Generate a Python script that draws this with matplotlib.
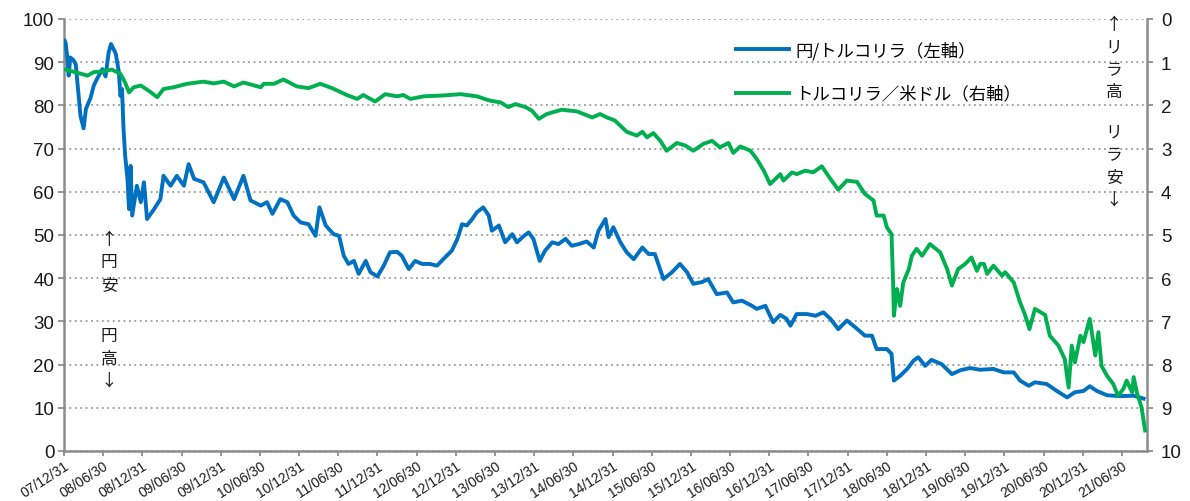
import matplotlib
matplotlib.use("Agg")
import matplotlib.pyplot as plt

plt.rcParams['font.family'] = ['Liberation Sans', 'Noto Sans CJK JP', 'DejaVu Sans']

# ---- data (decimal year, value) ----
x_tick_labels = ["07/12/31", "08/06/30", "08/12/31", "09/06/30", "09/12/31", "10/06/30",
                 "10/12/31", "11/06/30", "11/12/31", "12/06/30", "12/12/31", "13/06/30",
                 "13/12/31", "14/06/30", "14/12/31", "15/06/30", "15/12/31", "16/06/30",
                 "16/12/31", "17/06/30", "17/12/31", "18/06/30", "18/12/31", "19/06/30",
                 "19/12/31", "20/06/30", "20/12/31", "21/06/30"]

jpy_try_years = [2008.00, 2008.02, 2008.04, 2008.06, 2008.08, 2008.12, 2008.15, 2008.18, 2008.21,
                 2008.25, 2008.28, 2008.34, 2008.38, 2008.42, 2008.49, 2008.53, 2008.57, 2008.60,
                 2008.66, 2008.70, 2008.72, 2008.74, 2008.76, 2008.78, 2008.81, 2008.83, 2008.85,
                 2008.87, 2008.93, 2008.98, 2009.02, 2009.06, 2009.15, 2009.23, 2009.27, 2009.36,
                 2009.44, 2009.53, 2009.59, 2009.66, 2009.78, 2009.91, 2010.04, 2010.17, 2010.29,
                 2010.38, 2010.51, 2010.59, 2010.66, 2010.76, 2010.85, 2010.93, 2011.02, 2011.12,
                 2011.21, 2011.26, 2011.34, 2011.44, 2011.51, 2011.57, 2011.63, 2011.70, 2011.76,
                 2011.85, 2011.91, 2012.00, 2012.08, 2012.16, 2012.25, 2012.31, 2012.40, 2012.48,
                 2012.57, 2012.67, 2012.76, 2012.84, 2012.95, 2013.02, 2013.08, 2013.14, 2013.21,
                 2013.27, 2013.35, 2013.42, 2013.46, 2013.55, 2013.63, 2013.72, 2013.78, 2013.87,
                 2013.93, 2013.99, 2014.07, 2014.14, 2014.23, 2014.31, 2014.40, 2014.48, 2014.57,
                 2014.67, 2014.76, 2014.82, 2014.91, 2014.95, 2015.01, 2015.10, 2015.18, 2015.27,
                 2015.38, 2015.46, 2015.54, 2015.65, 2015.76, 2015.86, 2015.95, 2016.03, 2016.14,
                 2016.22, 2016.33, 2016.46, 2016.54, 2016.65, 2016.76, 2016.84, 2016.95, 2017.01,
                 2017.05, 2017.14, 2017.22, 2017.27, 2017.35, 2017.48, 2017.59, 2017.69, 2017.78,
                 2017.88, 2017.99, 2018.10, 2018.22, 2018.31, 2018.37, 2018.50, 2018.56, 2018.59,
                 2018.67, 2018.76, 2018.84, 2018.90, 2018.99, 2019.07, 2019.20, 2019.33, 2019.44,
                 2019.56, 2019.69, 2019.86, 2019.99, 2020.12, 2020.20, 2020.31, 2020.39, 2020.54,
                 2020.67, 2020.80, 2020.90, 2021.01, 2021.09, 2021.18, 2021.31, 2021.48, 2021.65,
                 2021.80]
jpy_try_vals = [95.4, 94.5, 91.5, 86.9, 91.1, 90.5, 89.5, 83.5, 77.6,
                74.7, 79.2, 81.8, 84.6, 86.1, 88.4, 86.7, 92.3, 94.2,
                92.0, 87.7, 82.2, 83.8, 74.5, 68.4, 63.0, 56.0, 66.0,
                54.5, 61.4, 57.6, 62.2, 53.7, 56.0, 58.3, 63.7, 61.4,
                63.7, 61.4, 66.4, 63.0, 62.2, 57.6, 63.3, 58.3, 63.7,
                58.0, 56.8, 57.6, 54.9, 58.3, 57.6, 54.5, 52.9, 52.5,
                49.8, 56.4, 52.2, 50.2, 49.8, 45.2, 43.3, 44.0, 41.0,
                44.0, 41.4, 40.4, 42.9, 46.0, 46.1, 45.2, 42.1, 44.0,
                43.3, 43.3, 42.9, 44.4, 46.4, 49.1, 52.5, 52.2, 53.7,
                55.3, 56.4, 54.5, 51.0, 52.2, 48.3, 50.2, 48.3, 49.8,
                50.6, 49.1, 44.0, 46.4, 48.3, 47.9, 49.1, 47.5, 47.9,
                48.5, 47.1, 51.0, 53.7, 49.5, 51.8, 48.3, 46.0, 44.4,
                47.1, 45.6, 45.6, 39.8, 41.4, 43.3, 41.4, 38.7, 39.1,
                39.8, 36.3, 36.7, 34.4, 34.8, 33.8, 32.9, 33.6, 31.3,
                29.8, 31.5, 30.6, 29.0, 31.7, 31.7, 31.3, 32.1, 30.6,
                28.2, 30.2, 28.6, 26.7, 26.7, 23.6, 23.6, 22.5, 16.3,
                17.4, 19.0, 20.9, 21.7, 19.7, 21.1, 20.1, 17.8, 18.7,
                19.2, 18.8, 19.0, 18.2, 18.2, 16.3, 15.1, 15.9, 15.5,
                13.9, 12.4, 13.6, 13.9, 15.0, 13.9, 12.9, 12.7, 12.8,
                12.0]

try_usd_years = [2008.00, 2008.12, 2008.30, 2008.38, 2008.51, 2008.61, 2008.72, 2008.78, 2008.83,
                 2008.89, 2008.98, 2009.08, 2009.19, 2009.27, 2009.40, 2009.57, 2009.78, 2009.91,
                 2010.04, 2010.17, 2010.29, 2010.51, 2010.55, 2010.68, 2010.80, 2010.97, 2011.12,
                 2011.27, 2011.42, 2011.61, 2011.74, 2011.82, 2011.97, 2012.10, 2012.25, 2012.33,
                 2012.42, 2012.59, 2012.84, 2013.06, 2013.27, 2013.40, 2013.44, 2013.57, 2013.67,
                 2013.76, 2013.89, 2013.97, 2014.06, 2014.16, 2014.35, 2014.55, 2014.74, 2014.84,
                 2014.93, 2015.03, 2015.18, 2015.31, 2015.38, 2015.44, 2015.52, 2015.61, 2015.69,
                 2015.82, 2015.93, 2016.03, 2016.16, 2016.27, 2016.37, 2016.48, 2016.54, 2016.63,
                 2016.76, 2016.84, 2016.93, 2017.01, 2017.08, 2017.14, 2017.18, 2017.29, 2017.35,
                 2017.46, 2017.56, 2017.67, 2017.78, 2017.88, 2017.99, 2018.12, 2018.22, 2018.33,
                 2018.37, 2018.46, 2018.50, 2018.56, 2018.58, 2018.59, 2018.63, 2018.67, 2018.71,
                 2018.78, 2018.82, 2018.88, 2018.95, 2019.05, 2019.18, 2019.27, 2019.33, 2019.41,
                 2019.50, 2019.58, 2019.65, 2019.69, 2019.74, 2019.78, 2019.86, 2019.97, 2020.01,
                 2020.12, 2020.20, 2020.26, 2020.32, 2020.39, 2020.52, 2020.58, 2020.69, 2020.77,
                 2020.82, 2020.86, 2020.90, 2020.97, 2021.01, 2021.09, 2021.16, 2021.20, 2021.24,
                 2021.31, 2021.39, 2021.45, 2021.52, 2021.56, 2021.63, 2021.65, 2021.69, 2021.75,
                 2021.80]
try_usd_vals = [1.16, 1.22, 1.31, 1.23, 1.21, 1.17, 1.27, 1.47, 1.70,
                1.58, 1.54, 1.66, 1.81, 1.62, 1.58, 1.50, 1.45, 1.49,
                1.45, 1.56, 1.47, 1.58, 1.50, 1.50, 1.40, 1.56, 1.60,
                1.50, 1.60, 1.76, 1.85, 1.76, 1.91, 1.74, 1.79, 1.76,
                1.85, 1.79, 1.77, 1.74, 1.79, 1.87, 1.89, 1.93, 2.04,
                1.97, 2.04, 2.12, 2.31, 2.20, 2.10, 2.14, 2.28, 2.20,
                2.28, 2.35, 2.61, 2.70, 2.61, 2.74, 2.64, 2.82, 3.05,
                2.87, 2.93, 3.05, 2.89, 2.82, 2.97, 2.87, 3.10, 2.95,
                3.05, 3.24, 3.51, 3.82, 3.70, 3.59, 3.74, 3.55, 3.59,
                3.51, 3.55, 3.41, 3.70, 3.95, 3.74, 3.77, 4.05, 4.20,
                4.55, 4.55, 4.82, 4.98, 6.10, 6.87, 6.25, 6.64, 6.10,
                5.79, 5.48, 5.32, 5.48, 5.21, 5.40, 5.79, 6.17, 5.79,
                5.67, 5.52, 5.83, 5.67, 5.67, 5.90, 5.71, 5.94, 5.86,
                6.10, 6.56, 6.83, 7.18, 6.71, 6.85, 7.33, 7.56, 7.87,
                8.53, 7.56, 7.95, 7.33, 7.48, 6.94, 7.79, 7.25, 8.03,
                8.26, 8.45, 8.72, 8.56, 8.37, 8.64, 8.29, 8.64, 8.99,
                9.57]

series_labels = ["円/トルコリラ（左軸）", "トルコリラ／米ドル（右軸）"]
left_note_top = ["↑", "円", "安"]
left_note_bottom = ["円", "高", "↓"]
right_note_top = ["↑", "リ", "ラ", "高"]
right_note_bottom = ["リ", "ラ", "安", "↓"]


def label_to_year(s):
    yy, mm, dd = s.split("/")
    return 2000 + int(yy) + (1.0 if mm == "12" else 0.5)


tick_pos = [label_to_year(s) for s in x_tick_labels]

BLUE = "#0070C0"
GREEN = "#00B050"
SPINE = "#8c8c8c"
TXT = "#1a1a1a"
W, H = 1190, 502

fig = plt.figure(figsize=(W / 100, H / 100), dpi=100)
ax = fig.add_axes([64 / W, 50 / H, (1147 - 64) / W, (452 - 20) / H])

l1, = ax.plot(jpy_try_years, jpy_try_vals, color=BLUE, lw=2.8,
              solid_joinstyle="round", solid_capstyle="butt", zorder=3)
ax.set_xlim(2008.0, 2021.82)
ax.set_ylim(0, 100)
ax.set_yticks(range(0, 101, 10))
ax.yaxis.grid(True, linestyle=(0, (1, 2)), color="#9a9a9a", lw=1.3)
ax.set_xticks(tick_pos)
ax.set_xticklabels(x_tick_labels, rotation=33, ha="right", rotation_mode="anchor",
                   fontsize=10, color=TXT)

ax2 = ax.twinx()
l2, = ax2.plot(try_usd_years, try_usd_vals, color=GREEN, lw=2.8,
               solid_joinstyle="round", solid_capstyle="butt", zorder=3)
ax2.set_ylim(10, 0)
ax2.set_yticks(range(0, 11, 1))

for a in (ax, ax2):
    for s in a.spines.values():
        s.set_visible(False)
ax.spines["left"].set_visible(True)
ax.spines["bottom"].set_visible(True)
ax2.spines["right"].set_visible(True)
for s in (ax.spines["left"], ax.spines["bottom"], ax2.spines["right"]):
    s.set_color(SPINE)
    s.set_linewidth(1.8)

ax.tick_params(axis="y", direction="out", length=4, width=1.3, color=SPINE,
               labelsize=13.5, labelcolor=TXT, pad=3)
ax.tick_params(axis="x", direction="out", length=3.5, width=1.3, color=SPINE, pad=2)
ax2.tick_params(axis="y", direction="out", length=4, width=1.3, color=SPINE,
                labelsize=13.5, labelcolor=TXT, pad=6)

fig.legend([l1, l2], series_labels, loc="upper left",
           bbox_to_anchor=(734 / W, 1 - 42 / H), bbox_transform=fig.transFigure,
           frameon=False, handlelength=3.3, handletextpad=0.25, labelspacing=1.45,
           borderpad=0, borderaxespad=0,
           prop={"family": ["Noto Sans CJK JP"], "size": 12.5})

jp = dict(family=["Noto Sans CJK JP"], fontsize=12, color=TXT, ha="center",
          linespacing=1.42)
fig.text(109 / W, 1 - 232 / H, "\n".join(left_note_top), va="top", **jp)
fig.text(109 / W, 1 - 390 / H, "\n".join(left_note_bottom), va="bottom", **jp)
fig.text(1114 / W, 1 - 17 / H, "\n".join(right_note_top), va="top", **jp)
fig.text(1114 / W, 1 - 209 / H, "\n".join(right_note_bottom), va="bottom", **jp)

fig.savefig("out.png", dpi=100)
